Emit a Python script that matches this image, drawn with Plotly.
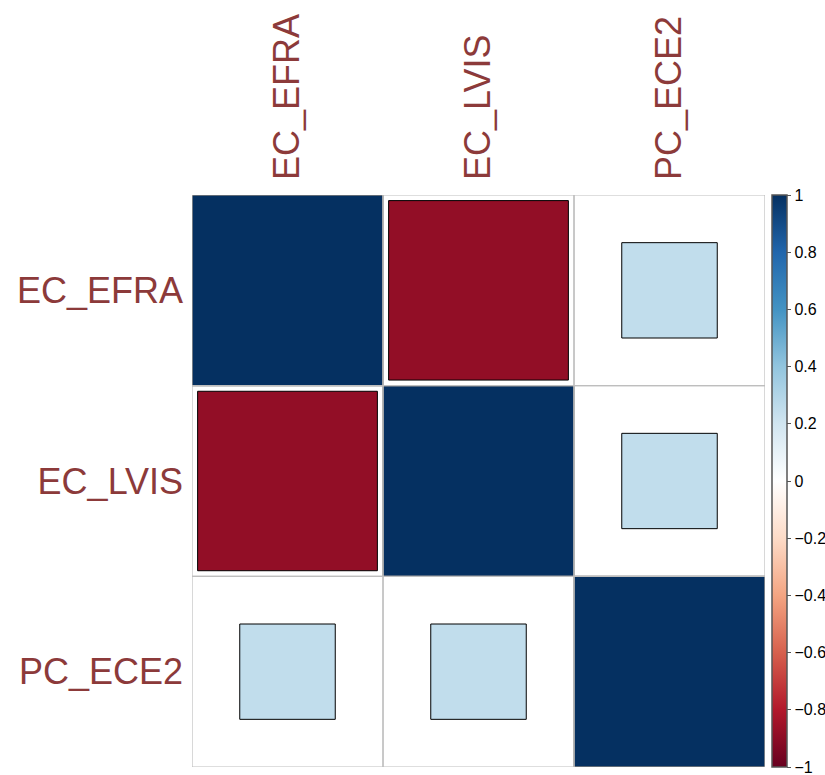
import math
import plotly.graph_objects as go

# Variables and their correlation matrix
variables = ["EC_EFRA", "EC_LVIS", "PC_ECE2"]
corr_efra = [1.0, -0.886, 0.25]
corr_lvis = [-0.886, 1.0, 0.25]
corr_ece2 = [0.25, 0.25, 1.0]
corr_rows = [corr_efra, corr_lvis, corr_ece2]

# Colour bar ticks
cbar_ticks = [-1, -0.8, -0.6, -0.4, -0.2, 0, 0.2, 0.4, 0.6, 0.8, 1]
cbar_ticktext = ["\u22121", "\u22120.8", "\u22120.6", "\u22120.4", "\u22120.2",
                 "0", "0.2", "0.4", "0.6", "0.8", "1"]

# Diverging red-blue palette
palette = ["#67001F", "#B2182B", "#D6604D", "#F4A582", "#FDDBC7", "#FFFFFF",
           "#D1E5F0", "#92C5DE", "#4393C3", "#2166AC", "#053061"]
colorscale = [[i / (len(palette) - 1), c] for i, c in enumerate(palette)]


def hex_to_rgb(h):
    h = h.lstrip("#")
    return tuple(int(h[i:i + 2], 16) for i in (0, 2, 4))


def value_color(v):
    pos = (v + 1) / 2 * (len(palette) - 1)
    i = min(int(math.floor(pos)), len(palette) - 2)
    t = pos - i
    a, b = hex_to_rgb(palette[i]), hex_to_rgb(palette[i + 1])
    r, g, bl = (round(a[k] + (b[k] - a[k]) * t) for k in range(3))
    return f"rgb({r},{g},{bl})"


label_color = "#8C3A3A"
grid_color = "#BEBEBE"
n = len(variables)

shapes = []
# squares whose side scales with sqrt(|r|)
for i, row in enumerate(corr_rows):
    for j, v in enumerate(row):
        half = math.sqrt(abs(v)) / 2
        cx, cy = j + 1, i + 1
        shapes.append(dict(type="rect", xref="x", yref="y",
                           x0=cx - half, x1=cx + half, y0=cy - half, y1=cy + half,
                           fillcolor=value_color(v),
                           line=dict(color="black", width=1), layer="above"))
# cell grid
for i in range(n):
    for j in range(n):
        shapes.append(dict(type="rect", xref="x", yref="y",
                           x0=j + 0.5, x1=j + 1.5, y0=i + 0.5, y1=i + 1.5,
                           line=dict(color=grid_color, width=1.2), layer="above"))

fig = go.Figure()
flat_x, flat_y, flat_v = [], [], []
for i, row in enumerate(corr_rows):
    for j, v in enumerate(row):
        flat_x.append(j + 1)
        flat_y.append(i + 1)
        flat_v.append(v)

# invisible markers carrying the colour scale
fig.add_trace(go.Scatter(
    x=flat_x, y=flat_y, mode="markers", hoverinfo="skip",
    marker=dict(color=flat_v, colorscale=colorscale, cmin=-1, cmax=1,
                opacity=0, size=1, showscale=True,
                colorbar=dict(thickness=15, len=1, lenmode="fraction",
                              x=1.012, xanchor="left", y=0.5, yanchor="middle",
                              xpad=0, ypad=0,
                              outlinewidth=1.5, outlinecolor="#555555",
                              tickvals=cbar_ticks, ticktext=cbar_ticktext,
                              ticks="outside", ticklen=4, tickcolor="#555555",
                              ticklabeloverflow="allow",
                              tickfont=dict(size=16, color="black",
                                            family="Liberation Sans, Arial, sans-serif"))),
    showlegend=False))

fig.update_layout(
    width=825, height=775,
    margin=dict(l=192, r=60, t=195, b=8, autoexpand=False),
    paper_bgcolor="white", plot_bgcolor="white",
    shapes=shapes,
    font=dict(family="Liberation Sans, Arial, sans-serif"),
    xaxis=dict(range=[0.5, n + 0.5], side="top", tickmode="array",
               tickvals=list(range(1, n + 1)), ticktext=variables,
               tickangle=-90, showgrid=False, zeroline=False, showline=False,
               ticks="", ticklabelstandoff=14,
               tickfont=dict(size=36, color=label_color), fixedrange=True),
    yaxis=dict(range=[n + 0.5, 0.5], tickmode="array",
               tickvals=list(range(1, n + 1)), ticktext=variables,
               showgrid=False, zeroline=False, showline=False,
               ticks="", ticklabelstandoff=8,
               tickfont=dict(size=36, color=label_color), fixedrange=True),
)

fig.write_html("out.html")
